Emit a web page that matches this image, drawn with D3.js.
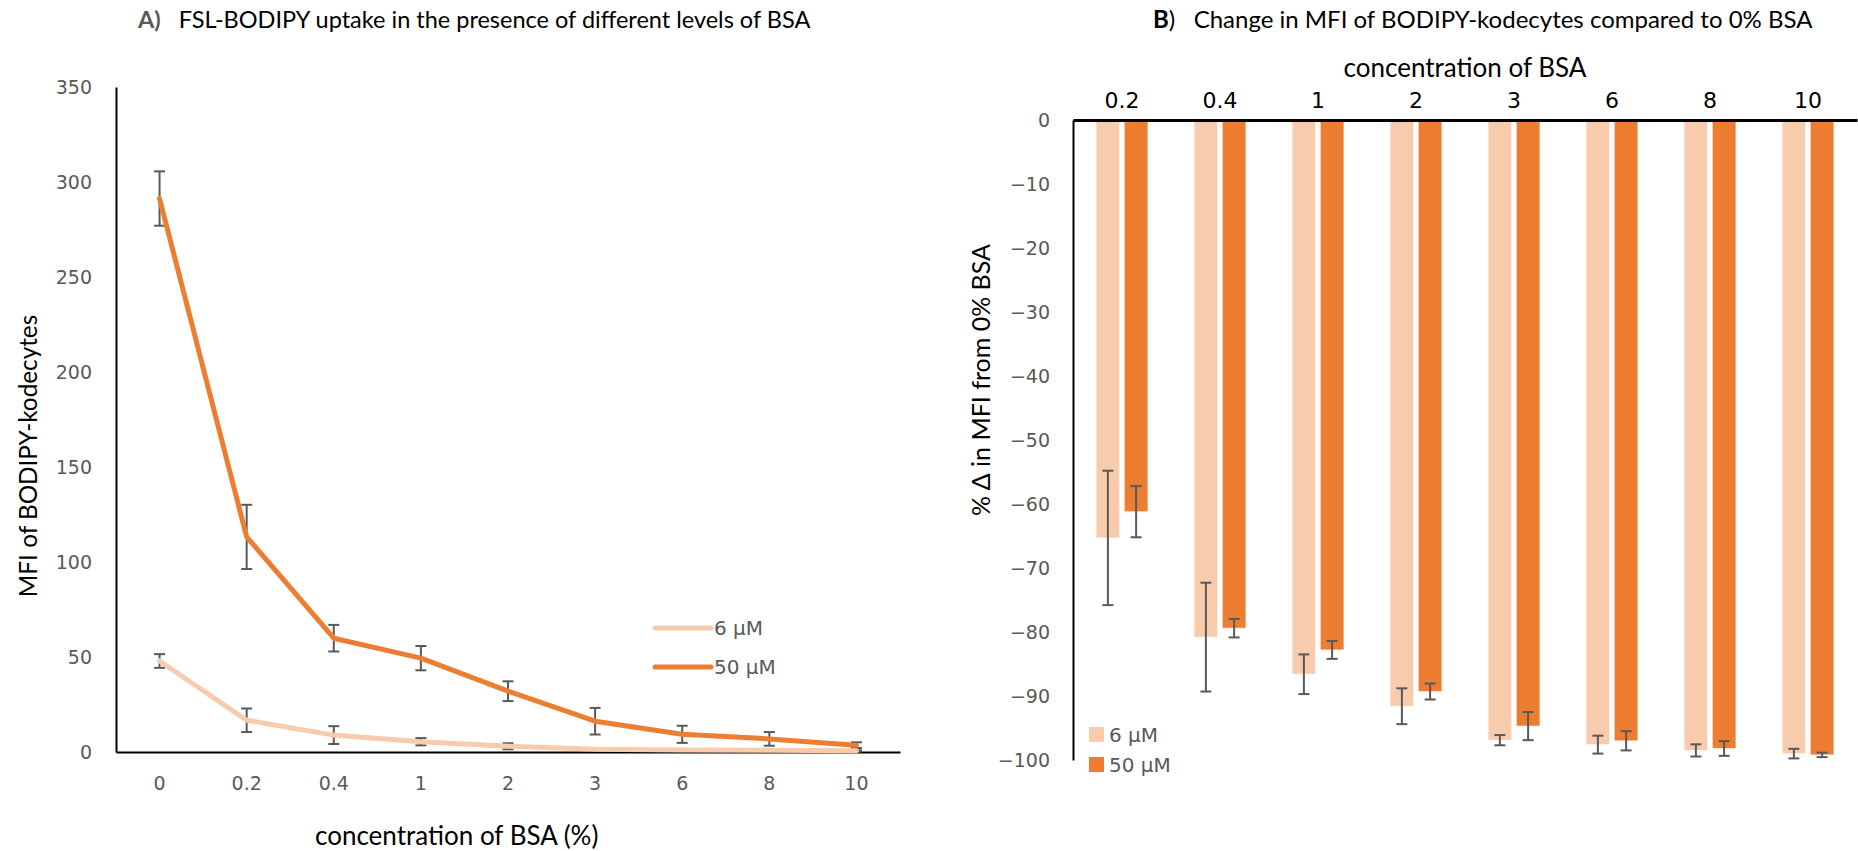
<!DOCTYPE html>
<html>
<head>
<meta charset="utf-8">
<script src="https://cdn.jsdelivr.net/npm/d3@7/dist/d3.min.js"></script>
<style>
  html, body { margin: 0; padding: 0; background: #ffffff; }
  svg { display: block; }
  .calibri { font-family: Lato, "Open Sans", sans-serif; }
  .tick text { font-family: "DejaVu Sans", Verdana, sans-serif; fill: #595959; }
</style>
</head>
<body>
<svg id="chart" width="1858" height="851"></svg>
<script>
// ---- Panel A: MFI of BODIPY-kodecytes vs BSA concentration ----
const bsaLevels = ["0", "0.2", "0.4", "1", "2", "3", "6", "8", "10"];
const mfi6uM     = [47.9, 16.7, 8.9, 5.4, 3.0, 1.4, 1.1, 0.9, 0.6];
const mfi6uMErr  = [3.6, 6.2, 4.7, 1.9, 1.6, 0.5, 0.5, 0.4, 0.3];
const mfi50uM    = [291.3, 113.2, 59.9, 49.4, 32.0, 16.2, 9.3, 6.9, 3.6];
const mfi50uMErr = [14.3, 16.9, 7.0, 6.4, 5.2, 7.0, 4.5, 3.6, 1.5];
const mfiTicks   = [0, 50, 100, 150, 200, 250, 300, 350];

// ---- Panel B: % change in MFI relative to 0% BSA ----
const changeLevels = ["0.2", "0.4", "1", "2", "3", "6", "8", "10"];
const delta6uM      = [-65.3, -80.8, -86.6, -91.6, -96.9, -97.6, -98.5, -99.0];
const delta6uMErr   = [10.5, 8.5, 3.1, 2.8, 0.8, 1.4, 0.95, 0.75];
const delta50uM     = [-61.2, -79.4, -82.8, -89.3, -94.7, -97.0, -98.2, -99.2];
const delta50uMErr  = [4.0, 1.45, 1.4, 1.25, 2.2, 1.5, 1.15, 0.35];
const deltaTicks    = [0, -10, -20, -30, -40, -50, -60, -70, -80, -90, -100];

const seriesNames  = ["6 µM", "50 µM"];
const seriesColors = ["#F8CBAD", "#ED7D31"];
const errColor = "#595959";

const svg = d3.select("#chart");

// ================= Panel A =================
const A = { left: 116, right: 900, top: 87, bottom: 752 };
const xA = d3.scaleBand().domain(bsaLevels).range([A.left, A.right]);
const yA = d3.scaleLinear().domain([0, 350]).range([A.bottom, A.top]);
const cxA = c => xA(c) + xA.bandwidth() / 2;

const gA = svg.append("g");

gA.append("g")
  .attr("transform", `translate(${A.left},0)`)
  .call(d3.axisLeft(yA).tickValues(mfiTicks).tickSize(0).tickSizeOuter(0).tickPadding(24))
  .call(g => g.select(".domain").attr("stroke", "#000").attr("stroke-width", 2))
  .call(g => g.selectAll(".tick text").attr("font-size", 19));

gA.append("g")
  .attr("transform", `translate(0,${A.bottom})`)
  .call(d3.axisBottom(xA).tickSize(0).tickSizeOuter(0).tickPadding(25))
  .call(g => g.select(".domain").attr("stroke", "#000").attr("stroke-width", 2))
  .call(g => g.selectAll(".tick text").attr("font-size", 19));

const seriesA = [
  { name: seriesNames[0], color: seriesColors[0], vals: mfi6uM, errs: mfi6uMErr },
  { name: seriesNames[1], color: seriesColors[1], vals: mfi50uM, errs: mfi50uMErr }
];

const lineA = d3.line().x((d, i) => cxA(bsaLevels[i])).y(d => yA(d));

seriesA.forEach(s => {
  // error bars
  const eg = gA.append("g").attr("stroke", errColor).attr("stroke-width", 2);
  s.vals.forEach((v, i) => {
    const x = cxA(bsaLevels[i]);
    const y1 = yA(v + s.errs[i]), y2 = yA(Math.max(0, v - s.errs[i]));
    eg.append("line").attr("x1", x).attr("x2", x).attr("y1", y1).attr("y2", y2);
    eg.append("line").attr("x1", x - 5.5).attr("x2", x + 5.5).attr("y1", y1).attr("y2", y1);
    eg.append("line").attr("x1", x - 5.5).attr("x2", x + 5.5).attr("y1", y2).attr("y2", y2);
  });
});
seriesA.forEach(s => {
  gA.append("path")
    .datum(s.vals)
    .attr("fill", "none")
    .attr("stroke", s.color)
    .attr("stroke-width", 5)
    .attr("stroke-linejoin", "round")
    .attr("stroke-linecap", "round")
    .attr("d", lineA);
});

// legend A
const legA = gA.append("g").attr("transform", "translate(655,628)");
seriesA.forEach((s, i) => {
  const row = legA.append("g").attr("transform", `translate(0,${i * 39})`);
  row.append("line").attr("x1", 0).attr("x2", 56).attr("y1", 0).attr("y2", 0)
    .attr("stroke", s.color).attr("stroke-width", 5).attr("stroke-linecap", "round");
  row.append("text").attr("x", 59).attr("y", 0).attr("dy", "0.36em")
    .attr("font-family", "DejaVu Sans, Verdana, sans-serif").attr("font-size", 20)
    .attr("fill", "#595959").text(s.name);
});

// titles A
const titleA = gA.append("text").attr("class", "calibri")
  .attr("x", 138).attr("y", 28).attr("font-size", 23.5).attr("fill", "#000")
  .style("white-space", "pre");
titleA.append("tspan").attr("font-weight", "bold").attr("fill", "#595959").text("A)");
titleA.append("tspan").text("   FSL-BODIPY uptake in the presence of different levels of BSA");

gA.append("text").attr("class", "calibri")
  .attr("x", 315).attr("y", 836).attr("dy", "0.35em").attr("font-size", 26).attr("fill", "#000")
  .text("concentration of BSA (%)");

gA.append("text").attr("class", "calibri")
  .attr("transform", "translate(28,456) rotate(-90)")
  .attr("text-anchor", "middle").attr("dy", "0.35em").attr("font-size", 24.3).attr("fill", "#000")
  .text("MFI of BODIPY-kodecytes");

// ================= Panel B =================
const B = { left: 1073, right: 1857, top: 120, bottom: 760 };
const xB = d3.scaleBand().domain(changeLevels).range([B.left, B.right])
  .paddingInner(0.471).paddingOuter(0.2355);
const xSub = d3.scaleBand().domain(seriesNames).range([0, xB.bandwidth()]).paddingInner(0.163);
const yB = d3.scaleLinear().domain([-100, 0]).range([B.bottom, B.top]);

const gB = svg.append("g");

const seriesB = [
  { name: seriesNames[0], color: seriesColors[0], vals: delta6uM, errs: delta6uMErr },
  { name: seriesNames[1], color: seriesColors[1], vals: delta50uM, errs: delta50uMErr }
];

seriesB.forEach(s => {
  gB.append("g").selectAll("rect")
    .data(s.vals)
    .join("rect")
    .attr("x", (d, i) => xB(changeLevels[i]) + xSub(s.name))
    .attr("width", xSub.bandwidth())
    .attr("y", yB(0))
    .attr("height", d => yB(d) - yB(0))
    .attr("fill", s.color)
    .attr("stroke", "#ffffff")
    .attr("stroke-opacity", 0.6)
    .attr("stroke-width", 1);
});

seriesB.forEach(s => {
  const eg = gB.append("g").attr("stroke", errColor).attr("stroke-width", 2);
  s.vals.forEach((v, i) => {
    const x = xB(changeLevels[i]) + xSub(s.name) + xSub.bandwidth() / 2;
    const y1 = yB(v + s.errs[i]), y2 = yB(Math.max(-100, v - s.errs[i]));
    eg.append("line").attr("x1", x).attr("x2", x).attr("y1", y1).attr("y2", y2);
    eg.append("line").attr("x1", x - 5.5).attr("x2", x + 5.5).attr("y1", y1).attr("y2", y1);
    eg.append("line").attr("x1", x - 5.5).attr("x2", x + 5.5).attr("y1", y2).attr("y2", y2);
  });
});

gB.append("g")
  .attr("transform", `translate(${B.left},0)`)
  .call(d3.axisLeft(yB).tickValues(deltaTicks).tickSize(0).tickSizeOuter(0).tickPadding(23))
  .call(g => g.select(".domain").attr("stroke", "#000").attr("stroke-width", 2))
  .call(g => g.selectAll(".tick text").attr("font-size", 19));

gB.append("g")
  .attr("transform", `translate(0,${B.top})`)
  .call(d3.axisTop(xB).tickSize(0).tickSizeOuter(0).tickPadding(12))
  .call(g => g.select(".domain").attr("stroke", "#000").attr("stroke-width", 3))
  .call(g => g.selectAll(".tick text")
    .attr("font-family", "Lato, 'Open Sans', sans-serif")
    .attr("font-size", 22).style("fill", "#000"));

// legend B
const legB = gB.append("g").attr("transform", "translate(1089,727)");
seriesB.forEach((s, i) => {
  const row = legB.append("g").attr("transform", `translate(0,${i * 30})`);
  row.append("rect").attr("width", 15).attr("height", 15).attr("fill", s.color);
  row.append("text").attr("x", 20).attr("y", 7.5).attr("dy", "0.36em")
    .attr("font-family", "DejaVu Sans, Verdana, sans-serif").attr("font-size", 20)
    .attr("fill", "#595959").text(s.name);
});

// titles B
const titleB = gB.append("text").attr("class", "calibri")
  .attr("x", 1153).attr("y", 28).attr("font-size", 24).attr("fill", "#000")
  .style("white-space", "pre");
titleB.append("tspan").attr("font-weight", "bold").text("B");
titleB.append("tspan").text(")   Change in MFI of BODIPY-kodecytes compared to 0% BSA");

gB.append("text").attr("class", "calibri")
  .attr("x", (B.left + B.right) / 2).attr("y", 68).attr("dy", "0.35em")
  .attr("text-anchor", "middle").attr("font-size", 26).attr("fill", "#000")
  .text("concentration of BSA");

gB.append("text").attr("class", "calibri")
  .attr("transform", "translate(981,380) rotate(-90)")
  .attr("text-anchor", "middle").attr("dy", "0.35em").attr("font-size", 25).attr("fill", "#000")
  .text("% Δ in MFI from 0% BSA");
</script>
</body>
</html>
